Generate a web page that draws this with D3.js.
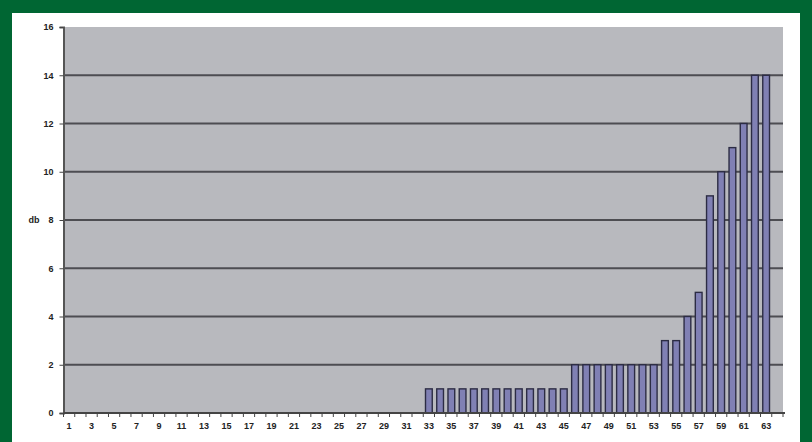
<!DOCTYPE html>
<html><head><meta charset="utf-8">
<script src="https://cdn.jsdelivr.net/npm/d3@7"></script>
<style>html,body{margin:0;padding:0;background:#fff;}svg{display:block;}</style>
</head><body>
<svg id="c" width="812" height="442"></svg>
<script>
const categories = d3.range(1, 65).map(String);
const values = [
  0,0,0,0,0,0,0,0,0,0,0,0,0,0,0,0,0,0,0,0,0,0,0,0,0,0,0,0,0,0,0,0,
  1,1,1,1,1,1,1,1,1,1,1,1,1,
  2,2,2,2,2,2,2,2,
  3,3,4,5,9,10,11,12,14,14,
  0
];
const yTicks = [0,2,4,6,8,10,12,14,16];
const yLabel = "db";

const svg = d3.select("#c");
const font = "Liberation Sans, Arial, sans-serif";
// green frame
svg.append("rect").attr("x",0).attr("y",0).attr("width",812).attr("height",442).attr("fill","#006633");
svg.append("rect").attr("x",12).attr("y",13).attr("width",788).attr("height",429).attr("fill","#ffffff");

const m = {left:63.5, top:27, right:783, bottom:413};
const x = d3.scaleBand().domain(categories).range([m.left, m.right]).paddingInner(0.4).paddingOuter(0.2);
const y = d3.scaleLinear().domain([0,16]).range([m.bottom, m.top]);

svg.append("rect").attr("x",m.left).attr("y",m.top).attr("width",m.right-m.left).attr("height",m.bottom-m.top).attr("fill","#b8b9be");

// gridlines
svg.append("g").selectAll("line").data(yTicks.filter(t=>t>0 && t<16)).join("line")
  .attr("x1",m.left).attr("x2",m.right).attr("y1",d=>y(d)).attr("y2",d=>y(d))
  .attr("stroke","#4d4d52").attr("stroke-width",2);

// bars
svg.append("g").selectAll("rect").data(categories.map((c,i)=>({c, v:values[i]})).filter(d=>d.v>0)).join("rect")
  .attr("x",d=>x(d.c)).attr("width",x.bandwidth())
  .attr("y",d=>y(d.v)).attr("height",d=>y(0)-y(d.v))
  .attr("fill","#8080b4").attr("stroke","#2c2c44").attr("stroke-width",1.4);

// y axis
const ya = d3.axisLeft(y).tickValues(yTicks).tickSize(4).tickPadding(6);
const gy = svg.append("g").attr("transform",`translate(${m.left},0)`).call(ya);
gy.select(".domain").attr("stroke","#555").attr("stroke-width",2);
gy.selectAll(".tick line").attr("stroke","#444");
gy.selectAll("text").attr("font-family",font).attr("font-size",9).attr("font-weight","bold").attr("fill","#222");

// x axis
const xa = d3.axisBottom(x).tickValues(categories.filter((c,i)=>i%2===0)).tickSize(0).tickPadding(10);
const gx = svg.append("g").attr("transform",`translate(0,${m.bottom})`).call(xa);
gx.select(".domain").remove();
gx.selectAll("text").attr("font-family",font).attr("font-size",9).attr("font-weight","bold").attr("fill","#222");
svg.append("line").attr("x1",m.left).attr("x2",m.right+2).attr("y1",m.bottom).attr("y2",m.bottom).attr("stroke","#444").attr("stroke-width",2);
const bounds = categories.map(c => x(c) - x.step()*x.paddingInner()/2).concat([m.right]);
svg.append("g").selectAll("line").data(bounds).join("line")
  .attr("x1",d=>d).attr("x2",d=>d)
  .attr("y1",m.bottom).attr("y2",m.bottom+4).attr("stroke","#444");

svg.append("text").attr("x",34).attr("y",y(8)+3).attr("text-anchor","middle")
  .attr("font-family",font).attr("font-size",9).attr("font-weight","bold").attr("fill","#222").text(yLabel);
</script>
</body></html>
